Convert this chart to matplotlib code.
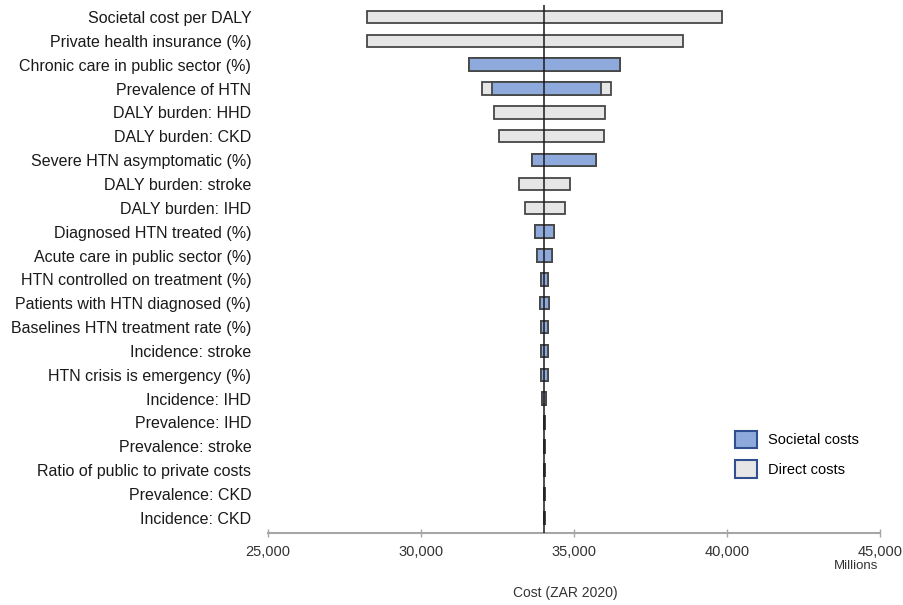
import matplotlib
matplotlib.use('Agg')
import matplotlib.pyplot as plt
from matplotlib.patches import Patch
import numpy as np

plt.rcParams['font.family'] = ['Liberation Sans', 'DejaVu Sans']

# tornado data, top row first (ZAR 2020, millions)
base_cost = 34030

params = [
    "Societal cost per DALY",
    "Private health insurance (%)",
    "Chronic care in public sector (%)",
    "Prevalence of HTN",
    "DALY burden: HHD",
    "DALY burden: CKD",
    "Severe HTN asymptomatic (%)",
    "DALY burden: stroke",
    "DALY burden: IHD",
    "Diagnosed HTN treated (%)",
    "Acute care in public sector (%)",
    "HTN controlled on treatment (%)",
    "Patients with HTN diagnosed (%)",
    "Baselines HTN treatment rate (%)",
    "Incidence: stroke",
    "HTN crisis is emergency (%)",
    "Incidence: IHD",
    "Prevalence: IHD",
    "Prevalence: stroke",
    "Ratio of public to private costs",
    "Prevalence: CKD",
    "Incidence: CKD",
]

direct_low = [28245, 28245, 31570, 31985, 32385, 32540, 33640, 33210, 33390, 33735, 33780,
              33910, 33900, 33910, 33910, 33910, 33960, 34010, 34010, 34010, 34010, 34010]
direct_high = [39840, 38570, 36490, 36220, 36020, 35980, 35730, 34880, 34700, 34335, 34280,
               34160, 34170, 34160, 34160, 34150, 34100, 34050, 34050, 34050, 34050, 34050]

# societal range; nan where the parameter only moves direct costs
societal_low = [np.nan, np.nan, 31570, 32310, np.nan, np.nan, 33640, np.nan, np.nan, 33735, 33780,
                33910, 33900, 33910, 33910, 33910, 33960, 34010, 34010, 34010, 34010, 34010]
societal_high = [np.nan, np.nan, 36490, 35880, np.nan, np.nan, 35730, np.nan, np.nan, 34335, 34280,
                 34160, 34170, 34160, 34160, 34150, 34100, 34050, 34050, 34050, 34050, 34050]

grey = '#e6e6e6'
blue = '#8eaadc'
edge = '#474747'

fig = plt.figure(figsize=(9.04, 6.05), dpi=100)
ax = fig.add_axes([0.2965, 0.1195, 0.677, 0.8722])

y = np.arange(len(params))
h = 0.52

dl = np.array(direct_low)
dh = np.array(direct_high)
ax.barh(y, dh - dl, left=dl, height=h, color=grey, edgecolor=edge, linewidth=1.3, zorder=2)

sl = np.array(societal_low)
sh = np.array(societal_high)
ok = ~np.isnan(sl)
ax.barh(y[ok], (sh - sl)[ok], left=sl[ok], height=h, color=blue, edgecolor=edge, linewidth=1.3, zorder=3)

ax.axvline(base_cost, color='#1a1a1a', linewidth=1.1, zorder=4)

ax.set_xlim(25000, 45000)
ax.set_ylim(len(params) - 1 + 0.62, -0.5)
ax.set_xticks([25000, 30000, 35000, 40000, 45000])
ax.set_xticklabels(['{:,}'.format(v) for v in [25000, 30000, 35000, 40000, 45000]])
ax.set_yticks(y)
ax.set_yticklabels(params, fontsize=11.5, color='#1a1a1a')

for s in ['top', 'right', 'left']:
    ax.spines[s].set_visible(False)
ax.spines['bottom'].set_color('#a6a6a6')
ax.spines['bottom'].set_linewidth(1.5)
ax.tick_params(axis='y', length=0, pad=12)
ax.tick_params(axis='x', direction='inout', length=6, width=1, color='#a6a6a6',
               labelsize=10.5, labelcolor='#333333', pad=6)

fig.text(0.971, 0.055, 'Millions', ha='right', va='bottom', fontsize=9.5, color='#333333')
fig.text(0.625, 0.008, 'Cost (ZAR 2020)', ha='center', va='bottom', fontsize=10, color='#333333')

handles = [Patch(facecolor=blue, edgecolor='#2f4f8f', linewidth=1.5, label='Societal costs'),
           Patch(facecolor=grey, edgecolor='#2f4f8f', linewidth=1.5, label='Direct costs')]
fig.legend(handles=handles, loc='upper left', bbox_to_anchor=(0.799, 0.31), frameon=False,
           fontsize=10.5, handlelength=1.5, handleheight=1.5, labelspacing=0.8, handletextpad=0.7)

fig.savefig('out.png', dpi=100)
